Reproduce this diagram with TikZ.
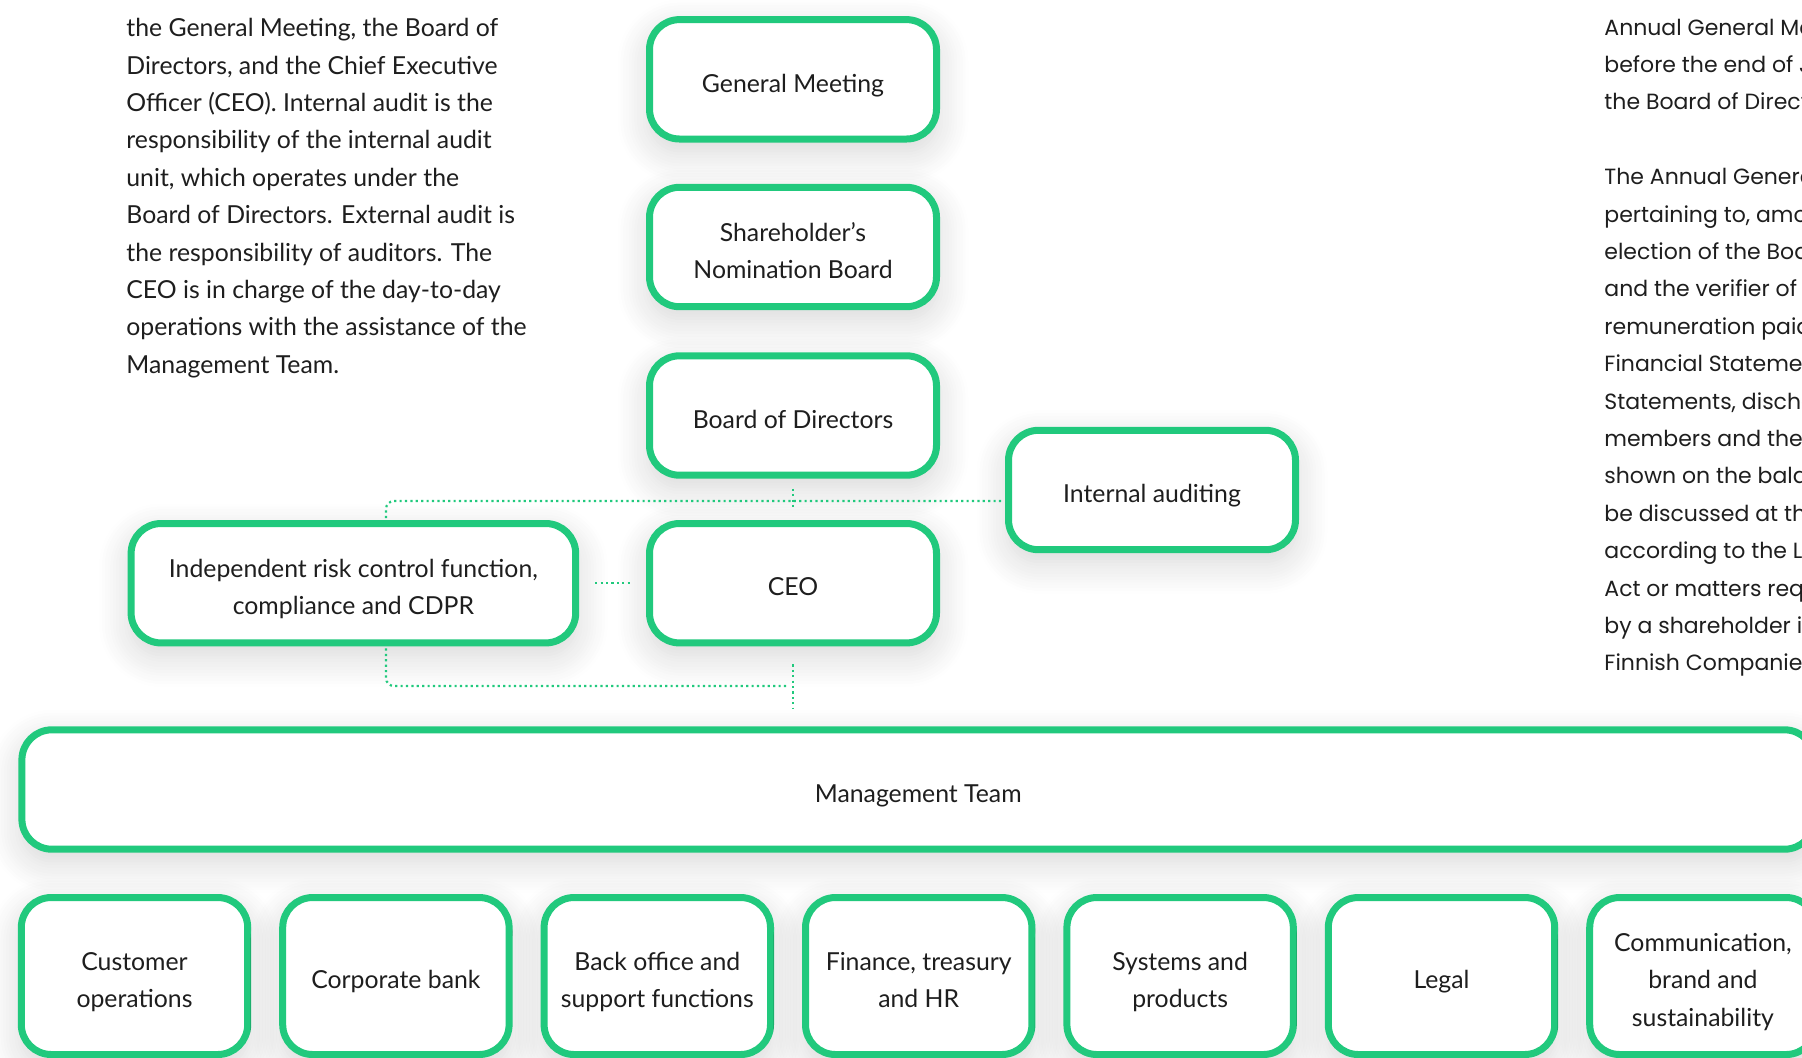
\documentclass[tikz,border=0pt]{standalone}
\usepackage{fontspec}
\setmainfont{Lato}
\newfontfamily\widefont{Poppins}
\usetikzlibrary{shadows.blur}
\definecolor{govgreen}{RGB}{33,201,125}
\definecolor{govink}{RGB}{30,30,30}

\begin{document}
\begin{tikzpicture}[
    x=0.5pt, y=-0.5pt,
    every node/.style={font=\fontsize{12.4}{18.7}\selectfont, text=govink},
    unit/.style={draw=govgreen, line width=3.5pt, rounded corners=15pt, fill=white, align=center,
        minimum width=143.5pt, minimum height=59.7pt, inner sep=0pt, text height=15.2pt, text depth=2.5pt,
        blur shadow={shadow xshift=0pt, shadow yshift=-6pt, shadow blur radius=16pt, shadow blur steps=12, shadow opacity=17}},
    oneline/.style={text height=15.2pt},
    twoline/.style={text height=33.9pt},
    threeline/.style={text height=52.6pt}, % keeps the text a bit under the middle
    dept/.style={unit, minimum width=113.2pt, minimum height=78.5pt},
    link/.style={draw=govgreen, line width=1.1pt, dash pattern=on 1.1pt off 1.6pt, rounded corners=4pt}
]
    \useasboundingbox (0,0) rectangle (1802,1057);
    \clip (0,0) rectangle (1802,1057);

    \node[anchor=north west, align=left, inner sep=0pt] (intro) at (126,18) {the General Meeting, the Board of\\Directors, and the Chief Executive\\Officer (CEO). Internal audit is the\\responsibility of the internal audit\\unit, which operates under the\\Board of Directors. External audit is\\the responsibility of auditors. The\\CEO is in charge of the day-to-day\\operations with the assistance of the\\Management Team.};
    \node[anchor=north west, align=left, inner sep=0pt, font=\widefont\fontsize{11}{18.7}\selectfont] (agm) at (1604,18) {Annual General Meeting\\before the end of June\\the Board of Directors\\[18.7pt]The Annual General Meeting\\pertaining to, among\\election of the Board\\and the verifier of the\\remuneration paid\\Financial Statements\\Statements, discharge\\members and the CEO\\shown on the balance\\be discussed at the\\according to the Limited\\Act or matters requested\\by a shareholder in\\Finnish Companies};

    \node[unit] (meeting) at (793,79.3) {General Meeting};
    \node[unit, twoline] (nomination) at (793,247) {Shareholder's\\Nomination Board};
    \node[unit] (board) at (793,415.5) {Board of Directors};
    \node[unit] (audit) at (1152,490) {Internal auditing};
    \node[unit, twoline, minimum width=222.3pt] (risk) at (353.4,583.2) {Independent risk control function,\\compliance and CDPR};
    \node[unit] (ceo) at (793,583.2) {CEO};
    \node[unit, minimum width=896.3pt] (team) at (918.2,789.5) {Management Team};

    \foreach \name/\rows/\label [count=\i from 0] in {cust/twoline/{Customer\\operations}, corp/oneline/{Corporate bank},
        back/twoline/{Back office and\\support functions}, fin/twoline/{Finance, treasury\\and HR}, sys/twoline/{Systems and\\products},
        legal/oneline/{Legal}, comm/threeline/{Communication,\\brand and\\sustainability}}
        \node[dept, \rows] (\name) at (134.5+261.4*\i,976) {\label};

    \coordinate (split) at (793,501);
    \coordinate (merge) at (789,686);
    \draw[link, shorten <=5pt, shorten >=5pt] (board.south) -- (ceo.north);
    \draw[link, shorten <=1pt, shorten >=2pt] ([xshift=16.3pt]risk.north) |- (audit.west |- split);
    \draw[link, shorten <=8pt, shorten >=8pt] (risk.east) -- (ceo.west);
    \draw[link, shorten <=9pt, shorten >=9pt] (ceo.south) -- (ceo.south |- team.north);
    \draw[link, shorten <=1pt] ([xshift=16.3pt]risk.south) |- (merge);
\end{tikzpicture}
\end{document}
